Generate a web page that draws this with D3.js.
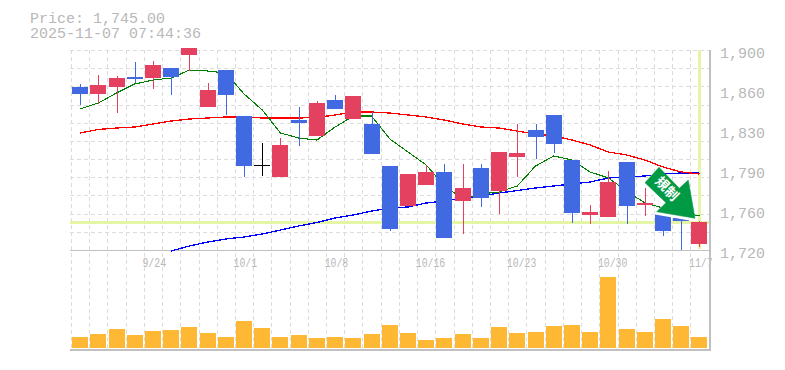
<!DOCTYPE html>
<html><head><meta charset="utf-8">
<style>html,body{margin:0;padding:0;background:#fff;overflow:hidden}svg{display:block}
text{font-family:"Liberation Mono",monospace;fill:#b8b8b8}</style>
<script src="https://cdn.jsdelivr.net/npm/d3@7"></script></head><body><div id="c"></div>
<script>
const dates=["9/17","9/18","9/19","9/22","9/24","9/25","9/26","9/29","9/30","10/1","10/2","10/3","10/6","10/7","10/8","10/9","10/10","10/14","10/15","10/16","10/17","10/20","10/21","10/22","10/23","10/24","10/27","10/28","10/29","10/30","10/31","11/4","11/5","11/6","11/7"];
const dateTicks=["9/24","10/1","10/8","10/16","10/23","10/30","11/7"];
const open=[1866.7,1860.4,1866.7,1875.7,1874.8,1883.8,1895.5,1848.7,1882,1840.6,1796.5,1785.7,1837,1822.6,1855,1837.9,1833.4,1795.6,1759.6,1778.5,1790.2,1764.1,1793.8,1773.1,1803.7,1828,1841.5,1801,1751.5,1749.7,1799.2,1760.5,1752.4,1748.8,1725.4];
const high=[1869.4,1877.5,1876.6,1889.2,1890.1,1883.8,1901.8,1870.3,1882,1840.6,1816.3,1820.8,1848.7,1854.1,1859.5,1858.6,1844.2,1795.6,1788.4,1796.5,1797.4,1797.4,1797.4,1808.2,1833.4,1833.4,1841.5,1801,1760.5,1791.1,1799.2,1775.8,1752.4,1748.8,1746];
const low=[1850.5,1851.4,1843.3,1870.3,1864.9,1859.5,1881.1,1848.7,1841.5,1785.7,1786.6,1785.7,1813.6,1822.6,1846.9,1837.9,1806.4,1737.1,1759.6,1778.5,1730.8,1734.4,1758.7,1752.4,1785.7,1801.9,1807.3,1744.3,1743.4,1749.7,1743.4,1750.6,1732.6,1720,1722.7];
const close=[1860.4,1868.5,1874.8,1873.9,1886.5,1875.7,1901.8,1864,1859.5,1795.6,1796.5,1814.5,1834.3,1852.3,1846.9,1858.6,1806.4,1738.9,1788.4,1790.2,1730.8,1775.8,1766.8,1808.2,1807.3,1821.7,1815.4,1753.3,1754.2,1781.2,1759.6,1762.3,1737.1,1746.1,1745];
const volume=[110,140,190,130,170,180,210,150,110,270,200,110,130,100,110,100,140,230,150,80,100,140,100,210,150,160,220,230,160,710,190,160,290,220,110];
const ma5=[1846.9,1852.3,1861.3,1869.4,1873,1874.8,1882,1881.1,1879.3,1860.4,1846,1825.3,1820.8,1819,1830.7,1840.6,1840.6,1819.9,1808.2,1796.5,1777.6,1765.9,1770.4,1772.2,1777.6,1795.6,1804.6,1801,1790.2,1784.8,1773.1,1762.3,1757.8,1754.2,1750.6];
const ma25=[1825.3,1828.5,1829.8,1830.7,1833.4,1836.1,1837.9,1838.8,1839.7,1839.7,1838.8,1838.8,1838.8,1839.3,1841.5,1844.2,1844.2,1843.3,1841.5,1839.7,1837,1833.4,1830.7,1829.8,1827.1,1824.4,1822.6,1819,1814.5,1808.2,1805.5,1801,1794.7,1790.2,1788.4];
const ma75=[null,null,null,null,null,1719.1,1723.6,1727.2,1729.9,1731.7,1734.4,1738,1741.6,1744.75,1748.8,1751.5,1755.1,1757.8,1758.7,1762.3,1764.1,1766.8,1768.6,1771.3,1773.5,1775.8,1777.6,1779.4,1781.2,1784.8,1785.7,1786.6,1788.4,1789.3,1789.3];
const priceTicks=[1900,1864,1828,1792,1756,1720];
const priceLabels=["1,900","1,860","1,830","1,790","1,760","1,720"];
const title=["Price: 1,745.00","2025-11-07 07:44:36"];
const lastPrice=1745;
const markerWord=["規","制"];
const priceGrid=d3.range(12);

const svg=d3.select("#c").append("svg").attr("width",785).attr("height",370);
const L=71,R=708.6,T=50,B=250,VB=348,VT=277,AX=710,AY=350;
const x=d3.scaleBand().domain(dates).range([L,R]).paddingInner(0.122).paddingOuter(0.061);
const cx=d=>x(d)+x.bandwidth()/2;
const y=d3.scaleLinear().domain([1720,1900]).range([B,T]);
const v=d3.scaleLinear().domain([0,710]).range([VB,VT]);

// grid
const g=svg.append("g").attr("stroke","#dcdcdc").attr("stroke-dasharray","4,3").attr("shape-rendering","crispEdges");
const edges=d3.range(dates.length+1).map(i=>L+i*x.step());
g.selectAll(".v").data(edges).join("line").attr("x1",d=>Math.round(d)).attr("x2",d=>Math.round(d)).attr("y1",T).attr("y2",AY);
g.selectAll(".h").data(priceGrid).join("line").attr("x1",70).attr("x2",AX).attr("y1",i=>Math.round(T+i*(B-T)/11)).attr("y2",i=>Math.round(T+i*(B-T)/11));

// axes
const yAxis=d3.axisRight(y).tickValues(priceTicks).tickSize(0).tickPadding(0).tickFormat((d,i)=>priceLabels[i]);
const ya=svg.append("g").attr("transform",`translate(720,0)`).call(yAxis);
ya.select(".domain").remove();
ya.selectAll("text").attr("dy",null).attr("y",7.5).attr("x",0).style("font-size","15px").attr("font-family",null);
const xAxis=d3.axisBottom(x).tickValues(dateTicks).tickSize(0).tickPadding(0);
const xa=svg.append("g").attr("transform",`translate(0,${B})`).call(xAxis);
xa.select(".domain").remove();
xa.selectAll("text").attr("dy",null).attr("y",17).attr("x",-10.5).attr("text-anchor","start")
 .attr("textLength",d=>d.length*5.9).attr("lengthAdjust","spacingAndGlyphs").style("font-size","13px").attr("font-family",null);

// last price guides
const gd=svg.append("g").attr("stroke","#e4f5a6").attr("stroke-width",3).attr("shape-rendering","crispEdges");
gd.append("line").attr("x1",70).attr("x2",AX).attr("y1",Math.round(y(lastPrice))+0.5).attr("y2",Math.round(y(lastPrice))+0.5);
gd.append("line").attr("x1",Math.round(cx(dates[dates.length-1]))+0.5).attr("x2",Math.round(cx(dates[dates.length-1]))+0.5).attr("y1",T).attr("y2",B-1);

// frame
const fr=svg.append("g").attr("stroke","#c0c0c0").attr("stroke-width",2).attr("shape-rendering","crispEdges");
fr.append("line").attr("x1",70).attr("x2",AX+1).attr("y1",B).attr("y2",B).attr("stroke-width",1);
fr.append("line").attr("x1",70).attr("x2",AX+1).attr("y1",AY).attr("y2",AY);
fr.append("line").attr("x1",AX).attr("x2",AX).attr("y1",T).attr("y2",AY+1);

// volume
svg.append("g").attr("shape-rendering","crispEdges").selectAll("rect").data(dates).join("rect")
 .attr("x",d=>Math.round(x(d))).attr("width",16)
 .attr("y",(d,i)=>v(volume[i])).attr("height",(d,i)=>VB-v(volume[i])).attr("fill","#ffb833");

// moving averages
const line=s=>d3.line().defined((d,i)=>s[i]!=null).x(d=>cx(d)).y((d,i)=>y(s[i]))(dates);
[[ma75,"#0000ff",1.3],[ma25,"#ff0000",1.3],[ma5,"#008000",1.1]].forEach(([s,c,w])=>{
 svg.append("path").attr("d",line(s)).attr("fill","none").attr("stroke",c).attr("stroke-width",w).attr("shape-rendering","crispEdges");
});

// candles
const col=i=>close[i]>open[i]?"#e4405f":close[i]<open[i]?"#4169e1":"#000000";
const cg=svg.append("g").attr("shape-rendering","crispEdges");
dates.forEach((d,i)=>{
 const m=Math.round(cx(d))+0.5;
 cg.append("line").attr("x1",m).attr("x2",m).attr("y1",y(high[i])).attr("y2",y(low[i])).attr("stroke",col(i)).attr("stroke-width",1);
 if(open[i]===close[i]){
  cg.append("line").attr("x1",Math.round(x(d))).attr("x2",Math.round(x(d))+16).attr("y1",y(open[i])).attr("y2",y(open[i])).attr("stroke",col(i)).attr("stroke-width",1);
 }else{
  cg.append("rect").attr("x",Math.round(x(d))).attr("width",16)
   .attr("y",y(Math.max(open[i],close[i]))).attr("height",Math.abs(y(open[i])-y(close[i]))).attr("fill",col(i));
 }
});

// marker
const arrow="M645,182.7L659,167.3L679.3,188.3L688.3,180L695,218.3L656.7,211.7L666,202.7Z";
const mk=svg.append("g");
mk.append("path").attr("d",arrow).attr("transform","translate(-1,2)").attr("fill","#fff").attr("stroke","#fff").attr("stroke-width",2);
mk.append("path").attr("d",arrow).attr("fill","#009944").attr("stroke","#009944").attr("stroke-width",0.5);
[[662.7,183.3],[672,193.3]].forEach((p,i)=>{
 mk.append("text").attr("transform",`translate(${p[0]},${p[1]}) rotate(45)`).attr("text-anchor","middle").attr("dy","0.38em")
  .style("font-family",'"Noto Sans CJK JP"').style("font-size","13.5px").style("font-weight","700").style("fill","#fff").text(markerWord[i]);
});

// header
svg.selectAll(".t").data(title).join("text").attr("x",30).attr("y",(d,i)=>22.5+15*i).style("font-size","15px").text(d=>d);
</script></body></html>
